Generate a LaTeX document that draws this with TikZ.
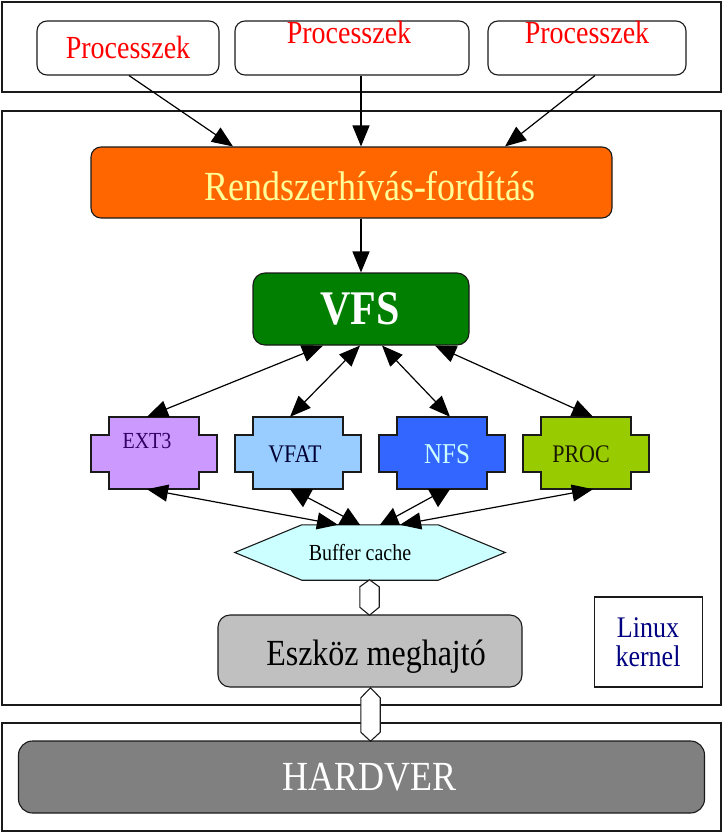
\documentclass[tikz,border=0pt]{standalone}
\usepackage{graphicx}
\usepackage{fontspec}
\setmainfont{Liberation Serif}
\usetikzlibrary{arrows.meta,calc}
\definecolor{procred}{HTML}{FF0000}
\definecolor{rszfill}{HTML}{FF6600}
\definecolor{rsztext}{HTML}{FFFF99}
\definecolor{vfsfill}{HTML}{007F00}
\definecolor{extfill}{HTML}{CC99FF}
\definecolor{exttext}{HTML}{330066}
\definecolor{vfatfill}{HTML}{99CCFF}
\definecolor{vfattext}{HTML}{000033}
\definecolor{nfsfill}{HTML}{3366FF}
\definecolor{nfstext}{HTML}{CCFFFF}
\definecolor{procfill}{HTML}{99CC00}
\definecolor{proctext}{HTML}{1A1A00}
\definecolor{buffill}{HTML}{CCFFFF}
\definecolor{eszfill}{HTML}{C0C0C0}
\definecolor{hwfill}{HTML}{808080}
\definecolor{navy}{HTML}{000080}
\definecolor{edge}{HTML}{1A1A1A}
\newcommand\fsz[2]{\scalebox{1}[1.15]{\fontsize{#1}{#1}\selectfont #2}}
\begin{document}
\begin{tikzpicture}[x=1pt,y=-1pt,
  frame/.style={draw=edge,line width=1.5pt,inner sep=0,minimum width=719pt},
  rbox/.style={draw=edge,line width=1.1pt,rounded corners=10pt,inner sep=0},
  lbl/.style={anchor=base,inner sep=0},
  arr/.style={-{Triangle[length=21pt,width=17pt]},line width=1.2pt},
  darr/.style={{Triangle[length=21pt,width=17pt]}-{Triangle[length=21pt,width=17pt]},line width=1.2pt},
  plain/.style={line width=1.2pt},
  plugborder/.style={draw=edge,line width=1.1pt},
  conn/.style={draw=edge,fill=white,line width=1.1pt}]
\useasboundingbox (0,0) rectangle (725,833);

% frames
\node[frame,minimum height=90pt] (topf) at (361.5,47) {};
\node[frame,minimum height=594pt] (kerf) at (361.5,408) {};
\node[frame,minimum height=108pt] (hwf) at (361.5,777) {};

% processes
\node[rbox,minimum width=182pt,minimum height=54pt] (p1) at (128,48) {};
\node[rbox,minimum width=234pt,minimum height=54pt] (p2) at (352,48) {};
\node[rbox,minimum width=198pt,minimum height=54pt] (p3) at (587,48) {};
\node[lbl,text=procred] (p1t) at (128,58) {\fsz{28}{Processzek}};
\node[lbl,text=procred] (p2t) at (349,43) {\fsz{28}{Processzek}};
\node[lbl,text=procred] (p3t) at (587,43) {\fsz{28}{Processzek}};

% system call layer
\node[rbox,fill=rszfill,minimum width=521pt,minimum height=71pt] (rsz) at (351.5,182.5) {};
\node[lbl,text=rsztext] (rszt) at (370,200) {\fsz{36}{Rendszerhívás-fordítás}};

% VFS
\node[rbox,fill=vfsfill,rounded corners=12pt,minimum width=216pt,minimum height=72pt] (vfs) at (361,309) {};
\node[lbl,text=white] (vfst) at (360,324) {\fsz{42}{\bfseries VFS}};

% plugins
\newcommand\plug[3]{%
  \node[minimum width=126pt,minimum height=72pt,inner sep=0] (#1) at (#2,453) {};
  \draw[plugborder,fill=#3] ($(#1.center)+(-45,-36)$) -- ++(90,0) -- ++(0,18) -- ++(18,0)
    -- ++(0,37) -- ++(-18,0) -- ++(0,17) -- ++(-90,0) -- ++(0,-17) -- ++(-18,0)
    -- ++(0,-37) -- ++(18,0) -- cycle;}
\plug{ext3}{154}{extfill}
\plug{vfat}{298}{vfatfill}
\plug{nfs}{442}{nfsfill}
\plug{proc}{586}{procfill}
\node[lbl,text=exttext] (ext3t) at (147,448) {\fsz{20}{EXT3}};
\node[lbl,text=vfattext] (vfatt) at (295,462) {\fsz{22}{VFAT}};
\node[lbl,text=nfstext] (nfst) at (447,463) {\fsz{25}{NFS}};
\node[lbl,text=proctext] (proct) at (581,462) {\fsz{22}{PROC}};

% buffer cache
\node[minimum width=270pt,minimum height=55pt,inner sep=0] (buf) at (370,552.5) {};
\draw[plugborder,fill=buffill] (buf.west) -- ($(buf.north west)+(67,0)$) -- ($(buf.north east)+(-67,0)$)
  -- (buf.east) -- ($(buf.south east)+(-67,0)$) -- ($(buf.south west)+(67,0)$) -- cycle;
\node[lbl] (buft) at (360,560) {\fsz{20}{Buffer cache}};

% device driver
\node[rbox,fill=eszfill,rounded corners=12pt,minimum width=304pt,minimum height=72pt] (esz) at (370,651) {};
\node[lbl] (eszt) at (376,665) {\fsz{32}{Eszköz meghajtó}};

% Linux kernel label
\node[draw=edge,line width=1.1pt,minimum width=108pt,minimum height=90pt,inner sep=0] (lk) at (648.5,642) {};
\node[lbl,text=navy] (lkt1) at (648,637) {\fsz{26}{Linux}};
\node[lbl,text=navy] (lkt2) at (648,666) {\fsz{26}{kernel}};

% hardware
\node[rbox,fill=hwfill,rounded corners=14pt,minimum width=686pt,minimum height=72pt] (hw) at (361.5,777) {};
\node[lbl,text=white] (hwt) at (369.5,790) {\fsz{36}{HARDVER}};

% arrows: processes -> syscall
\draw[arr] ($(p1.south)+(1,0)$) -- ($(rsz.north)+(-118.5,0)$);
\draw[arr] ($(p2.south)+(9,0)$) -- ($(rsz.north)+(9.5,0)$);
\draw[arr] ($(p3.south)+(8,0)$) -- ($(rsz.north)+(153.5,0)$);
\draw[arr] ($(rsz.south)+(9.5,0)$) -- (vfs.north);

% VFS <-> plugins
\draw[darr] ($(vfs.south)+(-38,0)$) -- ($(ext3.north)+(-7,0)$);
\draw[darr] ($(vfs.south)+(-1,0)$) -- ($(vfat.north)+(-8,0)$);
\draw[darr] ($(vfs.south)+(21,0)$) -- ($(nfs.north)+(8,0)$);
\draw[darr] ($(vfs.south)+(74,0)$) -- ($(proc.north)+(7,0)$);

% plugins <-> buffer cache
\draw[darr] ($(ext3.south)+(-7,0)$) -- ($(buf.north)+(-32,0)$);
\draw[darr] ($(proc.south)+(7,0)$) -- ($(buf.north)+(30,0)$);
\draw[plain] ($(vfat.south)+(5,6)$) -- ($(buf.north)+(-20,-5)$);
\fill ($(vfat.south)+(-8,0)$) -- ($(vfat.south)+(15,0)$) -- ($(vfat.south)+(5,18)$) -- cycle;
\fill ($(buf.north)+(-32,0)$) -- ($(buf.north)+(-10,0)$) -- ($(buf.north)+(-22,-17)$) -- cycle;
\draw[plain] ($(nfs.south)+(-7,6)$) -- ($(buf.north)+(20,-5)$);
\fill ($(nfs.south)+(-14,0)$) -- ($(nfs.south)+(8,0)$) -- ($(nfs.south)+(-4,18)$) -- cycle;
\fill ($(buf.north)+(10,0)$) -- ($(buf.north)+(30,0)$) -- ($(buf.north)+(23,-17)$) -- cycle;

% connectors
\node[minimum width=19pt,minimum height=35pt,inner sep=0] (c1) at (369.5,597.5) {};
\draw[conn] (c1.north) -- ($(c1.north east)+(0,7)$) -- ($(c1.south east)+(0,-8)$) -- (c1.south)
  -- ($(c1.south west)+(0,-8)$) -- ($(c1.north west)+(0,7)$) -- cycle;
\node[minimum width=19pt,minimum height=53pt,inner sep=0] (c2) at (370.5,714.5) {};
\draw[conn] (c2.north) -- ($(c2.north east)+(0,10)$) -- ($(c2.south east)+(0,-9)$) -- (c2.south)
  -- ($(c2.south west)+(0,-9)$) -- ($(c2.north west)+(0,10)$) -- cycle;
\end{tikzpicture}
\end{document}
